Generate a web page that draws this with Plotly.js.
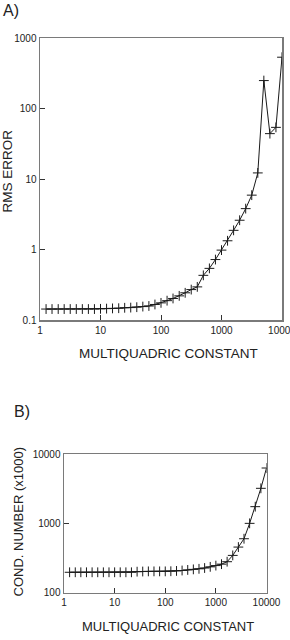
<!DOCTYPE html>
<html>
<head>
<meta charset="utf-8">
<script src="https://cdn.plot.ly/plotly-3.0.1.min.js"></script>
<style>
  html, body { margin: 0; padding: 0; background: #fff; }
  #chart { width: 290px; height: 640px; }
</style>
</head>
<body>
<div id="chart"></div>
<script>
// Panel A: RMS error against the multiquadric shape constant
const constA = [1.26, 1.58, 2.0, 2.51, 3.16, 3.98, 5.01, 6.31, 7.94, 10,
  12.6, 15.8, 20.0, 25.1, 31.6, 39.8, 50.1, 63.1, 79.4, 100,
  126, 158, 200, 251, 316, 398, 501, 631, 794, 1000,
  1259, 1585, 1995, 2512, 3162, 3981, 5012, 6310, 7943, 10000];
const rmsError = [0.143, 0.143, 0.143, 0.143, 0.143, 0.143, 0.143, 0.143, 0.143, 0.144,
  0.145, 0.146, 0.147, 0.149, 0.150, 0.152, 0.155, 0.158, 0.166, 0.175,
  0.188, 0.202, 0.220, 0.243, 0.270, 0.295, 0.43, 0.54, 0.72, 0.98,
  1.33, 1.87, 2.6, 3.8, 5.9, 12.2, 249, 44, 54, 534];

// Panel B: condition number (in thousands) against the same constant
const constB = [1.29, 1.67, 2.15, 2.78, 3.59, 4.64, 5.99, 7.74, 10,
  12.9, 16.7, 21.5, 27.8, 35.9, 46.4, 59.9, 77.4, 100,
  129, 167, 215, 278, 359, 464, 599, 774, 1000,
  1292, 1668, 2154, 2783, 3594, 4642, 5995, 7743, 10000];
const condNumber = [197, 197, 197, 197, 197, 197, 197, 197, 197,
  197, 197, 197, 201, 202, 203, 203, 203, 203,
  204, 206, 209, 213, 217, 221, 227, 236, 246,
  258, 280, 345, 455, 600, 1000, 1740, 3200, 6280];

const xTicksA = [1, 10, 100, 1000, 10000];
const xTickTextA = ['1', '10', '100', '1000', '10000'];
const yTicksA = [0.1, 1, 10, 100, 1000];
const yTickTextA = ['0.1', '1', '10', '100', '1000'];
const yTicksB = [100, 1000, 10000];
const yTickTextB = ['100', '1000', '10000'];

const W = 290, H = 640;
const px = v => v / W;
const py = v => 1 - v / H;

const ink = '#1a1a1a';
const frame = '#7a7a7a';
const font = 'Liberation Sans, Arial, sans-serif';

const markerStyle = {
  symbol: 'cross-thin',
  size: 7,
  color: ink,
  line: { color: ink, width: 1 }
};

const traces = [
  { x: constA, y: rmsError, xaxis: 'x', yaxis: 'y', mode: 'lines+markers',
    line: { color: ink, width: 1 }, marker: markerStyle, hoverinfo: 'x+y' },
  { x: constB, y: condNumber, xaxis: 'x2', yaxis: 'y2', mode: 'lines+markers',
    line: { color: ink, width: 1 }, marker: markerStyle, hoverinfo: 'x+y' }
];

function axis(extra) {
  return Object.assign({
    type: 'log',
    showline: true, mirror: true, linecolor: frame, linewidth: 1.5,
    ticks: 'inside', ticklen: 5, tickcolor: '#333', tickwidth: 1,
    showgrid: false, zeroline: false,
    tickfont: { family: font, size: 10, color: '#222' },
    ticklabeloverflow: 'allow',
    tickmode: 'array'
  }, extra);
}

const layout = {
  width: W, height: H,
  margin: { l: 0, r: 0, t: 0, b: 0 },
  paper_bgcolor: '#fff', plot_bgcolor: '#fff',
  showlegend: false,
  xaxis: axis({ domain: [px(40), px(282)], range: [0, 4], anchor: 'y',
    tickvals: xTicksA, ticktext: xTickTextA }),
  yaxis: axis({ domain: [py(320), py(38)], range: [-1, 3], anchor: 'x',
    tickvals: yTicksA, ticktext: yTickTextA }),
  xaxis2: axis({ domain: [px(64), px(266.5)], range: [0, 4], anchor: 'y2',
    tickvals: xTicksA, ticktext: xTickTextA }),
  yaxis2: axis({ domain: [py(592.7), py(454)], range: [2, 4], anchor: 'x2',
    tickvals: yTicksB, ticktext: yTickTextB }),
  annotations: [
    { text: 'A)', x: px(1), y: py(10), xref: 'paper', yref: 'paper',
      xanchor: 'left', yanchor: 'middle', showarrow: false,
      font: { family: font, size: 16, color: '#222' } },
    { text: 'B)', x: px(12), y: py(411), xref: 'paper', yref: 'paper',
      xanchor: 'left', yanchor: 'middle', showarrow: false,
      font: { family: font, size: 16, color: '#222' } },
    { text: 'MULTIQUADRIC CONSTANT', x: px(168), y: py(353), xref: 'paper', yref: 'paper',
      xanchor: 'center', yanchor: 'middle', showarrow: false,
      font: { family: font, size: 13.5, color: '#222' } },
    { text: 'RMS ERROR', x: px(7), y: py(171.5), xref: 'paper', yref: 'paper',
      xanchor: 'center', yanchor: 'middle', showarrow: false, textangle: -90,
      font: { family: font, size: 13.5, color: '#222' } },
    { text: 'MULTIQUADRIC CONSTANT', x: px(168), y: py(626), xref: 'paper', yref: 'paper',
      xanchor: 'center', yanchor: 'middle', showarrow: false,
      font: { family: font, size: 13, color: '#222' } },
    { text: 'COND. NUMBER (x1000)', x: px(18), y: py(521.5), xref: 'paper', yref: 'paper',
      xanchor: 'center', yanchor: 'middle', showarrow: false, textangle: -90,
      font: { family: font, size: 13, color: '#222' } }
  ]
};

Plotly.newPlot('chart', traces, layout, { staticPlot: true, displayModeBar: false });
</script>
</body>
</html>
